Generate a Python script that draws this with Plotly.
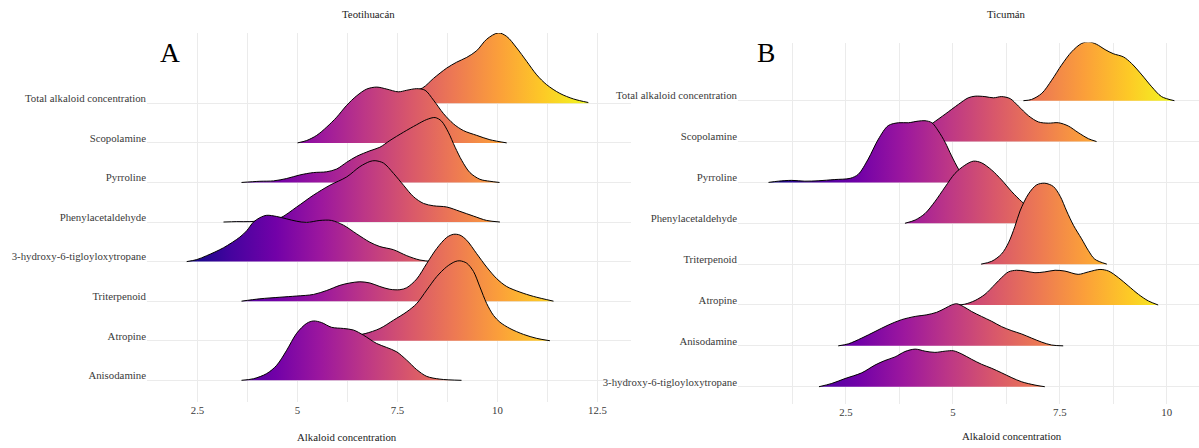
import plotly.graph_objects as go
import plotly.colors as pc

# ---------------- data ----------------
# heights are in units of the row spacing (ridge scale)
rows_A = ["Anisodamine", "Atropine", "Triterpenoid", "3-hydroxy-6-tigloyloxytropane",
          "Phenylacetaldehyde", "Pyrroline", "Scopolamine", "Total alkaloid concentration"]
rows_B = ["3-hydroxy-6-tigloyloxytropane", "Anisodamine", "Atropine", "Triterpenoid",
          "Phenylacetaldehyde", "Pyrroline", "Scopolamine", "Total alkaloid concentration"]

# Panel A (Teotihuacán)
A_total_x = [6.90, 7.40, 7.73, 8.13, 8.40, 8.73, 8.98, 9.23, 9.48, 9.73, 10.02, 10.23, 10.48, 10.73, 10.98, 11.23, 11.56, 11.90, 12.27]
A_total_h = [0.03, 0.13, 0.25, 0.39, 0.63, 0.89, 1.04, 1.16, 1.33, 1.62, 1.78, 1.69, 1.40, 1.06, 0.72, 0.47, 0.25, 0.11, 0.02]
A_scop_x = [5.00, 5.23, 5.48, 5.73, 5.98, 6.23, 6.48, 6.73, 6.98, 7.23, 7.52, 7.73, 7.98, 8.19, 8.40, 8.65, 8.90, 9.15, 9.48, 9.81, 10.23]
A_scop_h = [0.00, 0.06, 0.19, 0.40, 0.65, 0.95, 1.19, 1.36, 1.41, 1.36, 1.29, 1.33, 1.37, 1.33, 1.08, 0.74, 0.48, 0.31, 0.19, 0.08, 0.00]
A_pyrr_x = [3.60, 4.06, 4.40, 4.73, 5.06, 5.40, 5.73, 5.98, 6.23, 6.48, 6.81, 7.06, 7.31, 7.65, 7.98, 8.23, 8.44, 8.60, 8.77, 8.94, 9.11, 9.31, 9.56, 9.81, 10.05]
A_pyrr_h = [0.00, 0.03, 0.04, 0.10, 0.19, 0.25, 0.27, 0.34, 0.51, 0.66, 0.80, 0.89, 1.06, 1.27, 1.46, 1.59, 1.64, 1.55, 1.27, 0.89, 0.55, 0.25, 0.08, 0.03, 0.00]
A_phen_x = [3.15, 3.48, 3.81, 4.23, 4.56, 4.98, 5.40, 5.81, 6.23, 6.56, 6.81, 6.94, 7.15, 7.40, 7.65, 7.90, 8.15, 8.40, 8.73, 9.06, 9.40, 9.73, 10.06]
A_phen_h = [0.00, 0.01, 0.01, 0.05, 0.10, 0.38, 0.68, 0.93, 1.14, 1.40, 1.53, 1.55, 1.49, 1.23, 0.93, 0.64, 0.47, 0.41, 0.38, 0.27, 0.15, 0.04, 0.00]
A_hydr_x = [2.23, 2.48, 2.73, 3.15, 3.56, 3.73, 3.90, 4.06, 4.23, 4.48, 4.73, 4.98, 5.23, 5.56, 5.85, 6.15, 6.48, 6.81, 7.06, 7.40, 7.73, 8.06, 8.40]
A_hydr_h = [0.00, 0.05, 0.15, 0.35, 0.62, 0.78, 1.00, 1.11, 1.17, 1.14, 1.08, 1.02, 0.99, 1.04, 1.04, 0.92, 0.70, 0.49, 0.38, 0.30, 0.15, 0.04, 0.00]
A_trit_x = [3.60, 4.06, 4.56, 4.98, 5.40, 5.73, 6.06, 6.31, 6.56, 6.81, 7.06, 7.31, 7.56, 7.73, 7.98, 8.23, 8.48, 8.73, 8.90, 9.06, 9.23, 9.48, 9.73, 9.98, 10.23, 10.56, 10.90, 11.40]
A_trit_h = [0.00, 0.06, 0.10, 0.13, 0.17, 0.27, 0.40, 0.46, 0.49, 0.46, 0.37, 0.30, 0.29, 0.34, 0.56, 0.95, 1.33, 1.61, 1.69, 1.67, 1.54, 1.20, 0.86, 0.57, 0.37, 0.23, 0.12, 0.00]
A_atro_x = [5.10, 5.50, 5.90, 6.31, 6.69, 7.06, 7.40, 7.73, 7.98, 8.23, 8.48, 8.73, 8.94, 9.06, 9.23, 9.40, 9.56, 9.73, 9.90, 10.06, 10.31, 10.65, 10.98, 11.31]
A_atro_h = [0.00, 0.03, 0.06, 0.11, 0.18, 0.31, 0.52, 0.73, 0.94, 1.28, 1.62, 1.87, 2.00, 2.02, 1.96, 1.75, 1.36, 0.94, 0.64, 0.47, 0.31, 0.16, 0.06, 0.00]
A_anis_x = [3.60, 3.90, 4.23, 4.48, 4.73, 4.98, 5.23, 5.40, 5.60, 5.85, 6.15, 6.40, 6.65, 6.98, 7.23, 7.48, 7.73, 7.98, 8.23, 8.56, 9.10]
A_anis_h = [0.00, 0.04, 0.17, 0.38, 0.76, 1.19, 1.44, 1.50, 1.46, 1.34, 1.31, 1.27, 1.14, 0.93, 0.83, 0.72, 0.51, 0.27, 0.10, 0.03, 0.00]

# Panel B (Ticumán)
B_total_x = [6.65, 6.84, 7.08, 7.31, 7.54, 7.78, 8.01, 8.18, 8.36, 8.56, 8.75, 8.99, 9.18, 9.42, 9.65, 9.88, 10.18]
B_total_h = [0.00, 0.03, 0.18, 0.50, 0.87, 1.20, 1.40, 1.44, 1.38, 1.25, 1.15, 1.07, 0.91, 0.63, 0.34, 0.10, 0.00]
B_scop_x = [3.49, 3.80, 4.12, 4.35, 4.54, 4.82, 5.13, 5.36, 5.52, 5.75, 5.95, 6.14, 6.34, 6.53, 6.77, 7.00, 7.23, 7.47, 7.70, 7.93, 8.17, 8.36]
B_scop_h = [0.00, 0.06, 0.18, 0.32, 0.46, 0.67, 0.91, 1.07, 1.11, 1.10, 1.07, 1.10, 1.05, 0.87, 0.63, 0.48, 0.45, 0.46, 0.38, 0.22, 0.07, 0.00]
B_pyrr_x = [0.69, 0.92, 1.23, 1.54, 1.85, 2.24, 2.60, 2.79, 3.02, 3.26, 3.49, 3.73, 3.96, 4.19, 4.35, 4.51, 4.66, 4.82, 4.97, 5.13, 5.28, 5.52]
B_pyrr_h = [0.00, 0.03, 0.05, 0.03, 0.04, 0.07, 0.10, 0.20, 0.57, 1.06, 1.39, 1.46, 1.46, 1.50, 1.51, 1.46, 1.26, 0.98, 0.65, 0.33, 0.10, 0.00]
B_phen_x = [3.88, 4.12, 4.35, 4.58, 4.82, 5.05, 5.28, 5.48, 5.67, 5.91, 6.14, 6.38, 6.61, 6.84, 7.16, 7.47, 7.70]
B_phen_h = [0.00, 0.08, 0.24, 0.53, 0.89, 1.22, 1.42, 1.52, 1.48, 1.30, 1.06, 0.77, 0.53, 0.33, 0.12, 0.02, 0.00]
B_trit_x = [5.66, 5.91, 6.14, 6.30, 6.45, 6.57, 6.77, 6.96, 7.15, 7.35, 7.51, 7.66, 7.82, 8.01, 8.17, 8.32, 8.60]
B_trit_h = [0.00, 0.07, 0.25, 0.52, 0.92, 1.30, 1.72, 1.94, 1.98, 1.90, 1.66, 1.30, 0.95, 0.62, 0.33, 0.12, 0.00]
B_atro_x = [5.12, 5.28, 5.52, 5.75, 5.99, 6.14, 6.30, 6.49, 6.69, 6.92, 7.15, 7.39, 7.62, 7.93, 8.17, 8.44, 8.64, 8.87, 9.10, 9.34, 9.57, 9.80]
B_atro_h = [0.00, 0.02, 0.11, 0.26, 0.51, 0.67, 0.81, 0.85, 0.83, 0.79, 0.81, 0.85, 0.83, 0.75, 0.81, 0.87, 0.83, 0.67, 0.47, 0.26, 0.10, 0.00]
B_anis_x = [2.32, 2.56, 2.87, 3.18, 3.49, 3.80, 4.12, 4.39, 4.62, 4.82, 4.97, 5.09, 5.25, 5.44, 5.67, 5.91, 6.14, 6.38, 6.61, 6.84, 7.08, 7.31, 7.58]
B_anis_h = [0.00, 0.05, 0.19, 0.35, 0.51, 0.64, 0.72, 0.76, 0.82, 0.92, 1.00, 1.03, 0.96, 0.84, 0.72, 0.60, 0.47, 0.37, 0.29, 0.19, 0.09, 0.02, 0.00]
B_hydr_x = [1.87, 2.17, 2.48, 2.87, 3.18, 3.41, 3.65, 3.88, 4.12, 4.35, 4.58, 4.82, 5.01, 5.21, 5.44, 5.67, 5.91, 6.14, 6.38, 6.61, 6.92, 7.15]
B_hydr_h = [0.00, 0.08, 0.20, 0.34, 0.53, 0.64, 0.73, 0.86, 0.92, 0.87, 0.84, 0.87, 0.88, 0.80, 0.67, 0.55, 0.45, 0.34, 0.22, 0.12, 0.04, 0.00]

x_ticks_A = [2.5, 5, 7.5, 10, 12.5]
x_ticks_B = [2.5, 5, 7.5, 10]

# ---------------- figure ----------------
W, H = 1199, 448
FONT = "Liberation Serif"
plasma = pc.sequential.Plasma
scale = [[i / (len(plasma) - 1), c] for i, c in enumerate(plasma)]

# ridges per panel, listed bottom row -> top row (same order as rows_*)
ridges_A = [(A_anis_x, A_anis_h), (A_atro_x, A_atro_h), (A_trit_x, A_trit_h), (A_hydr_x, A_hydr_h),
            (A_phen_x, A_phen_h), (A_pyrr_x, A_pyrr_h), (A_scop_x, A_scop_h), (A_total_x, A_total_h)]
ridges_B = [(B_hydr_x, B_hydr_h), (B_anis_x, B_anis_h), (B_atro_x, B_atro_h), (B_trit_x, B_trit_h),
            (B_phen_x, B_phen_h), (B_pyrr_x, B_pyrr_h), (B_scop_x, B_scop_h), (B_total_x, B_total_h)]

fig = go.Figure()


def add_panel(ridges, xa, ya):
    lo = min(min(r[0]) for r in ridges)
    hi = max(max(r[0]) for r in ridges)
    # draw from the top row down so lower ridges overlap upper ones
    for i in reversed(range(len(ridges))):
        xs, hs = ridges[i]
        fig.add_trace(go.Scatter(x=[xs[0], xs[-1]], y=[i, i], mode="lines",
                                 line=dict(width=0, color="rgba(0,0,0,0)"),
                                 hoverinfo="skip", showlegend=False, xaxis=xa, yaxis=ya))
        fig.add_trace(go.Scatter(x=xs, y=[i + h for h in hs], mode="lines",
                                 line=dict(color="black", width=1, shape="spline", smoothing=0.9),
                                 fill="tonexty",
                                 fillgradient=dict(type="horizontal", colorscale=scale, start=lo, stop=hi),
                                 hoverinfo="skip", showlegend=False, xaxis=xa, yaxis=ya))


add_panel(ridges_A, "x", "y")
add_panel(ridges_B, "x2", "y2")

grid = "#ebebeb"
tickfont = dict(family=FONT, size=10.8, color="#3a3a3a")


def xaxis(dom, rng, ticks):
    return dict(domain=dom, range=rng, tickmode="array", tickvals=ticks,
                showgrid=True, gridcolor=grid, gridwidth=1, zeroline=False, showline=False,
                ticks="", tickfont=tickfont,
                minor=dict(tickmode="linear", tick0=0, dtick=1.25, showgrid=True, gridcolor=grid, gridwidth=1))


def yaxis(dom, rng, labels, anchor):
    return dict(domain=dom, range=rng, tickmode="array", tickvals=list(range(len(labels))),
                ticktext=labels, showgrid=True, gridcolor=grid, gridwidth=1, zeroline=False,
                showline=False, ticks="", tickfont=tickfont, ticklabelshift=-5, anchor=anchor)


fig.update_layout(
    width=W, height=H, margin=dict(l=0, r=0, t=0, b=0),
    paper_bgcolor="white", plot_bgcolor="rgba(0,0,0,0)",
    font=dict(family=FONT, size=10.8, color="#222222"),
    xaxis=xaxis([147 / W, 631 / W], [1.2375, 13.3375], x_ticks_A) | dict(anchor="y"),
    yaxis=yaxis([1 - 402 / H, 1 - 33 / H], [-0.548, 8.777], rows_A, "x"),
    xaxis2=xaxis([738 / W, 1.0], [-0.023, 10.755], x_ticks_B) | dict(anchor="y2"),
    yaxis2=yaxis([1 - 404 / H, 1 - 42.5 / H], [-0.423, 8.424], rows_B, "x2"),
)

ann = [
    dict(text="Teotihuacán", x=368 / W, y=1 - 13.8 / H, size=10.8),
    dict(text="Ticumán", x=1006 / W, y=1 - 13.8 / H, size=10.8),
    dict(text="Alkaloid concentration", x=347 / W, y=1 - 436.8 / H, size=10.8),
    dict(text="Alkaloid concentration", x=1012 / W, y=1 - 436 / H, size=10.8),
]
for a in ann:
    fig.add_annotation(text=a["text"], x=a["x"], y=a["y"], xref="paper", yref="paper",
                       xanchor="center", yanchor="middle", showarrow=False,
                       font=dict(family=FONT, size=a["size"], color="#222222"))
for lab, px in [("A", 158), ("B", 755)]:
    fig.add_annotation(text=lab, x=px / W, y=1 - 52.5 / H, xref="paper", yref="paper",
                       xanchor="left", yanchor="middle", showarrow=False,
                       font=dict(family=FONT, size=27.5, color="black"))

fig.write_html("out.html")
